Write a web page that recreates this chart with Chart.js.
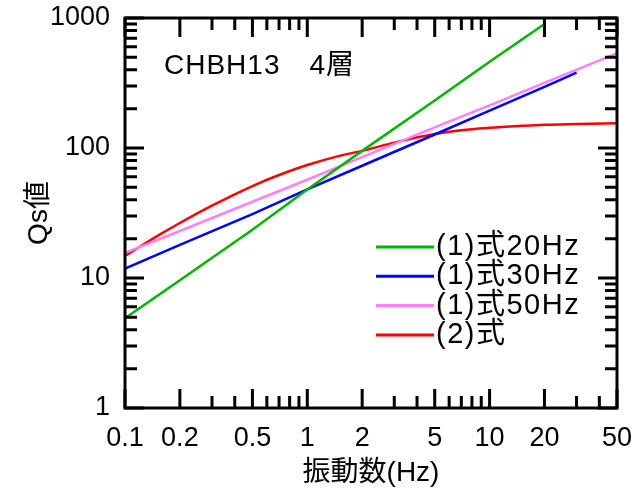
<!DOCTYPE html>
<html>
<head>
<meta charset="utf-8">
<script src="https://cdn.jsdelivr.net/npm/chart.js@4.4.0/dist/chart.umd.min.js"></script>
<style>
  html, body { margin: 0; padding: 0; background: #fff; }
</style>
</head>
<body>
<canvas id="qsChart" width="634" height="490"></canvas>
<script>
// 読み取り値 (両対数グラフ)
const freq20 = [0.1, 0.2, 0.5, 1, 2, 5, 10, 20];
const qs20 = [4.9, 9.6, 23.5, 48, 95, 232, 460, 900];
const freq30 = [0.1, 0.2, 0.5, 1, 2, 5, 10, 20, 30];
const qs30 = [11.8, 18, 31, 48, 73, 127, 194, 295, 380];
const freq50 = [0.1, 0.2, 0.5, 1, 2, 5, 10, 20, 50];
const qs50 = [15.6, 23, 38.6, 57, 85, 144, 213, 317, 536];
const freqEq2 = [0.1, 0.15, 0.2, 0.3, 0.5, 0.7, 1, 1.5, 2, 3, 5, 7, 10, 15, 20, 30, 50];
const qsEq2 = [14.8, 21, 26.5, 36, 51, 62, 74, 87, 95, 110, 128, 137, 143, 148, 151, 153, 155];

const seriesLabels = ['(1)式20Hz', '(1)式30Hz', '(1)式50Hz', '(2)式'];
const seriesColors = ['#00b400', '#0000ff', '#ff80ff', '#ff0000'];

const xTickLabels = [0.1, 0.2, 0.5, 1, 2, 5, 10, 20, 50];
const xMinorTicks = [0.3, 0.4, 0.6, 0.7, 0.8, 0.9, 3, 4, 6, 7, 8, 9, 30, 40];
const yTickLabels = [1, 10, 100, 1000];
const yMinorTicks = [2, 3, 4, 5, 6, 7, 8, 9, 20, 30, 40, 50, 60, 70, 80, 90, 200, 300, 400, 500, 600, 700, 800, 900];

const FONT = "'Liberation Sans', 'Noto Sans CJK JP', sans-serif";

function toPoints(xs, ys) {
  return xs.map((x, i) => ({ x, y: ys[i] }));
}

// 枠と内向き目盛り
const frameTicks = {
  id: 'frameTicks',
  afterDatasetsDraw(chart) {
    const { ctx, chartArea: a, scales: { x, y } } = chart;
    ctx.save();
    ctx.strokeStyle = '#000';
    ctx.lineWidth = 3;
    ctx.beginPath();
    const xTick = (v, len) => {
      const px = x.getPixelForValue(v);
      ctx.moveTo(px, a.bottom); ctx.lineTo(px, a.bottom - len);
      ctx.moveTo(px, a.top); ctx.lineTo(px, a.top + len);
    };
    const yTick = (v, len) => {
      const py = y.getPixelForValue(v);
      ctx.moveTo(a.left, py); ctx.lineTo(a.left + len, py);
      ctx.moveTo(a.right, py); ctx.lineTo(a.right - len, py);
    };
    xTickLabels.forEach((v) => xTick(v, 19));
    xMinorTicks.forEach((v) => xTick(v, 12));
    yTickLabels.forEach((v) => yTick(v, 19));
    yMinorTicks.forEach((v) => yTick(v, 12));
    ctx.stroke();
    ctx.strokeRect(a.left, a.top, a.right - a.left, a.bottom - a.top);
    ctx.restore();
  },
};

// 凡例と注記
const legendNote = {
  id: 'legendNote',
  afterDraw(chart) {
    const { ctx } = chart;
    ctx.save();
    ctx.fillStyle = '#000';
    ctx.textBaseline = 'middle';
    ctx.textAlign = 'left';
    ctx.letterSpacing = '1px';
    ctx.font = `28px ${FONT}`;
    ctx.fillText('CHBH13　4層', 164, 66);

    ctx.font = `29px ${FONT}`;
    ctx.letterSpacing = '1.5px';
    chart.data.datasets.forEach((ds, i) => {
      const yy = 247 + i * 29.3;
      ctx.strokeStyle = ds.borderColor;
      ctx.lineWidth = 3;
      ctx.beginPath();
      ctx.moveTo(376, yy);
      ctx.lineTo(434, yy);
      ctx.stroke();
      ctx.fillText(ds.label, 436, yy);
    });
    ctx.restore();
  },
};

const pointSets = [toPoints(freq20, qs20), toPoints(freq30, qs30), toPoints(freq50, qs50), toPoints(freqEq2, qsEq2)];

new Chart(document.getElementById('qsChart'), {
  type: 'line',
  data: {
    datasets: pointSets.map((pts, i) => ({
      label: seriesLabels[i],
      data: pts,
      borderColor: seriesColors[i],
      borderWidth: 2.5,
      pointRadius: 0,
      fill: false,
      cubicInterpolationMode: i === 3 ? 'monotone' : 'default',
      tension: i === 3 ? 0.4 : 0,
    })),
  },
  options: {
    responsive: false,
    animation: false,
    devicePixelRatio: 1,
    layout: { padding: { top: 18, right: 17, left: 0, bottom: 0 } },
    plugins: {
      legend: { display: false },
      tooltip: { enabled: false },
    },
    scales: {
      x: {
        type: 'logarithmic',
        min: 0.1,
        max: 50,
        grid: { display: false, drawTicks: false },
        border: { display: false },
        afterBuildTicks: (s) => { s.ticks = xTickLabels.map((v) => ({ value: v })); },
        afterFit: (s) => {
          s.height = 82;
          s.paddingLeft = 0;
          s.paddingRight = 0;
        },
        ticks: {
          autoSkip: false,
          maxRotation: 0,
          padding: 14,
          color: '#000',
          font: { family: FONT, size: 27 },
          callback: (v) => String(v),
        },
        title: {
          display: true,
          text: '振動数(Hz)',
          color: '#000',
          font: { family: FONT, size: 28 },
          padding: { top: 0, bottom: 0 },
        },
      },
      y: {
        type: 'logarithmic',
        min: 1,
        max: 1000,
        grid: { display: false, drawTicks: false },
        border: { display: false },
        afterBuildTicks: (s) => { s.ticks = yTickLabels.map((v) => ({ value: v })); },
        afterFit: (s) => {
          s.width = 125;
          s.paddingTop = 0;
          s.paddingBottom = 0;
        },
        ticks: {
          autoSkip: false,
          padding: 15,
          color: '#000',
          font: { family: FONT, size: 27 },
          callback: (v) => String(v),
        },
        title: {
          display: true,
          text: 'Qs値',
          color: '#000',
          font: { family: FONT, size: 28 },
          padding: { top: 22, bottom: 0 },
        },
      },
    },
  },
  plugins: [frameTicks, legendNote],
});
</script>
</body>
</html>
